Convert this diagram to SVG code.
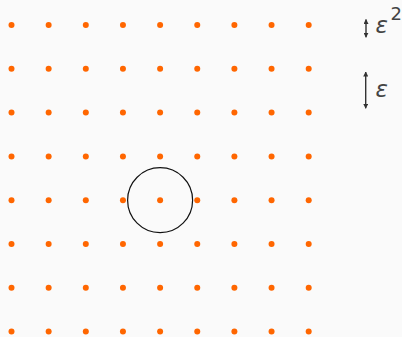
<svg xmlns="http://www.w3.org/2000/svg" width="402" height="337" viewBox="0 0 402 337">
<defs>
<style>
.dot{fill:#ff6600}
.arr{stroke:#333;stroke-width:1.4;fill:none;marker-start:url(#ah);marker-end:url(#ah)}
.lbl{font-family:"DejaVu Sans",sans-serif;font-style:italic;font-size:23px;fill:#444}
.sup{font-family:"DejaVu Sans",sans-serif;font-size:18px;fill:#444}
</style>
<marker id="ah" viewBox="0 0 10 10" refX="9" refY="5" markerWidth="5" markerHeight="5" orient="auto-start-reverse" markerUnits="userSpaceOnUse">
<path d="M0,0 L10,5 L0,10 z" fill="#333"/>
</marker>
<circle id="d" r="3" class="dot"/>
<g id="row">
<use href="#d" x="11.5"/><use href="#d" x="48.65"/><use href="#d" x="85.8"/><use href="#d" x="122.95"/><use href="#d" x="160.1"/><use href="#d" x="197.25"/><use href="#d" x="234.4"/><use href="#d" x="271.55"/><use href="#d" x="308.7"/>
</g>
</defs>
<rect width="402" height="337" fill="#fafafa"/>
<g id="grid">
<use href="#row" y="25"/>
<use href="#row" y="68.8"/>
<use href="#row" y="112.6"/>
<use href="#row" y="156.4"/>
<use href="#row" y="200.2"/>
<use href="#row" y="244"/>
<use href="#row" y="287.8"/>
<use href="#row" y="331.6"/>
</g>
<g id="circle">
<circle cx="160.1" cy="200.2" r="32.5" fill="none" stroke="#111" stroke-width="1.2"/>
</g>
<g id="connectors">
<line class="arr" x1="366" y1="19.5" x2="366" y2="37.3"/>
<line class="arr" x1="365.7" y1="72" x2="365.7" y2="108.3"/>
</g>
<g id="labels">
<text class="lbl" x="375.5" y="32.5">ε</text>
<text class="sup" x="390.5" y="19.5">2</text>
<text class="lbl" x="375.5" y="97.2">ε</text>
</g>
</svg>
